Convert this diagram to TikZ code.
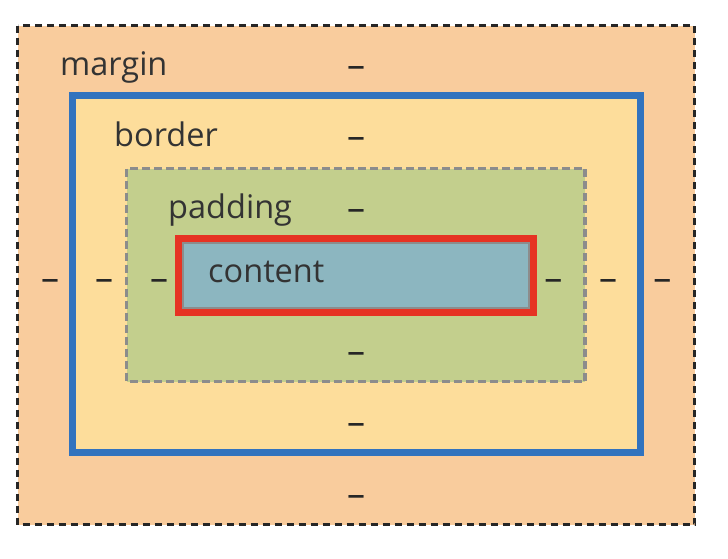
\documentclass[tikz,border=0pt]{standalone}
\usepackage{fontspec}
\setmainfont{Open Sans}
\usetikzlibrary{positioning}
\definecolor{marginfill}{HTML}{F9CC9D}
\definecolor{borderfill}{HTML}{FDDD9B}
\definecolor{paddingfill}{HTML}{C3CF8D}
\definecolor{contentfill}{HTML}{8CB6C0}
\definecolor{borderblue}{HTML}{3273BE}
\definecolor{contentred}{HTML}{E63323}
\definecolor{textgray}{HTML}{333333}
\tikzset{
  boxlabel/.style={anchor=base west,inner sep=0pt,text=textgray,font=\fontsize{32.5}{38}\selectfont},
  gap/.style={anchor=base,inner sep=0pt,text=black!85,font=\fontsize{36}{42}\selectfont}
}
\begin{document}
\begin{tikzpicture}[line cap=butt,line join=miter,x=1pt,y=-1pt]
\useasboundingbox (0,0) rectangle (728,558);
\draw [line width=3pt,fill=marginfill,draw=black!85,dash pattern=on 7pt off 5pt] (17.5,25.5) rectangle (694.5,524.5);
\draw [line width=7pt,fill=borderfill,draw=borderblue] (72.5,95.5) rectangle (640,452.5);
\draw [line width=3.5pt,fill=paddingfill,draw=black!45,dash pattern=on 8pt off 4pt] (126.5,168.5) rectangle (585,381.5);
\draw [line width=7pt,draw=contentred] (178.5,238.5) rectangle (533.5,312.5);
\draw [line width=2pt,fill=contentfill,draw=black!45] (183,243) rectangle (529,308);
\node [boxlabel] (margin) at (60,75) {margin};
\node [boxlabel] (border) at (114,146.5) {border};
\node [boxlabel] (padding) at (168,218) {padding};
\node [boxlabel] (content) at (208,282.5) {content};
\node [gap] (mt) at (356,77.2) {–};
\node [gap] (bt) at (356,148.2) {–};
\node [gap] (pt) at (356,220.2) {–};
\node [gap] (pb) at (356,363.2) {–};
\node [gap] (bb) at (356,434.2) {–};
\node [gap] (mb) at (356,506.2) {–};
\node [gap] (ml) at (50,290.8) {–};
\node [gap] (bl) at (104,290.8) {–};
\node [gap] (pl) at (159,290.8) {–};
\node [gap] (pr) at (553.3,290.8) {–};
\node [gap] (br) at (608,290.8) {–};
\node [gap] (mr) at (662.3,290.8) {–};
\end{tikzpicture}
\end{document}
